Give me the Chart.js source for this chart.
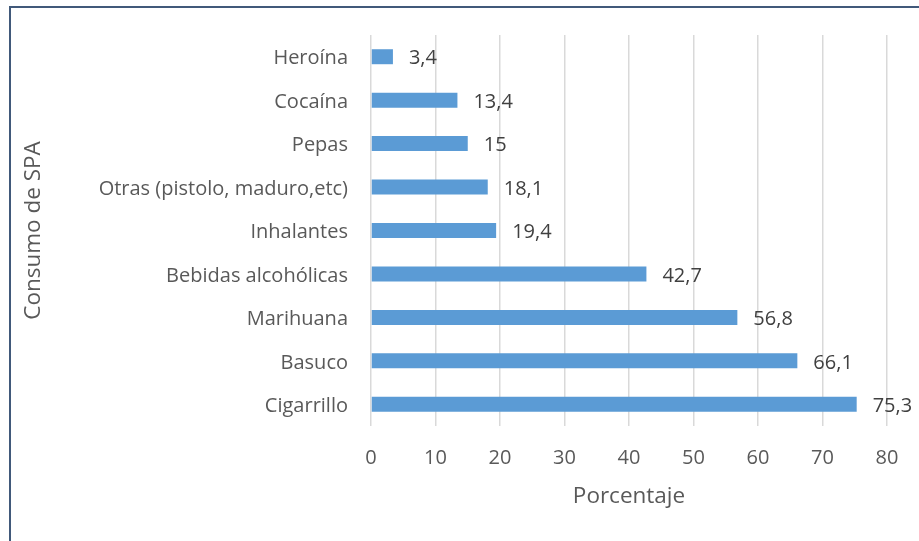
<!DOCTYPE html>
<html>
<head>
<meta charset="utf-8">
<script src="https://cdn.jsdelivr.net/npm/chart.js"></script>
<style>
  html, body { margin: 0; padding: 0; background: #ffffff; }
  #wrap { position: relative; width: 919px; height: 541px; }
</style>
</head>
<body>
<div id="wrap"><canvas id="spaChart" width="919" height="541"></canvas></div>
<script>
'use strict'
var categorias = ['Heroína', 'Cocaína', 'Pepas', 'Otras (pistolo, maduro,etc)', 'Inhalantes', 'Bebidas alcohólicas', 'Marihuana', 'Basuco', 'Cigarrillo'];
var porcentajes = [3.4, 13.4, 15, 18.1, 19.4, 42.7, 56.8, 66.1, 75.3];
var ejeX = { min: 0, max: 80, paso: 10 };

/* etiquetas de valor al final de cada barra */
var etiquetasValor = {
    id: 'etiquetasValor',
    afterDatasetsDraw: function (chart) {
        var ctx = chart.ctx;
        var meta = chart.getDatasetMeta(0);
        ctx.save();
        ctx.font = '20px "Open Sans"';
        ctx.fillStyle = '#404040';
        ctx.textAlign = 'left';
        ctx.textBaseline = 'middle';
        meta.data.forEach(function (bar, i) {
            var txt = String(porcentajes[i]).replace('.', ',');
            ctx.fillText(txt, bar.x + 16, bar.y + 2);
        });
        ctx.restore();
    }
};

/* marco del grafico */
var marco = {
    id: 'marco',
    beforeDraw: function (chart) {
        var ctx = chart.ctx;
        ctx.save();
        ctx.fillStyle = '#ffffff';
        ctx.fillRect(0, 0, chart.width, chart.height);
        ctx.strokeStyle = '#41597a';
        ctx.lineWidth = 2;
        ctx.beginPath();
        ctx.moveTo(10, chart.height + 5);
        ctx.lineTo(10, 7);
        ctx.lineTo(chart.width + 5, 7);
        ctx.stroke();
        ctx.restore();
    }
};

var ctxSpa = document.getElementById('spaChart').getContext('2d');
var spaChart = new Chart(ctxSpa, {
    type: 'bar',
    data: {
        labels: categorias,
        datasets: [{
            data: porcentajes,
            backgroundColor: '#5B9BD5',
            borderWidth: 0,
            categoryPercentage: 1,
            barPercentage: 0.345
        }]
    },
    options: {
        indexAxis: 'y',
        responsive: false,
        animation: false,
        layout: { padding: { top: 35, right: 32, left: 0, bottom: 0 } },
        plugins: {
            legend: { display: false },
            tooltip: { enabled: false }
        },
        scales: {
            x: {
                min: ejeX.min,
                max: ejeX.max,
                ticks: {
                    stepSize: ejeX.paso,
                    color: '#595959',
                    font: { family: 'Open Sans', size: 20 },
                    padding: 20
                },
                grid: {
                    color: '#D9D9D9',
                    lineWidth: 1.5,
                    drawTicks: false
                },
                border: { display: false },
                title: {
                    display: true,
                    text: 'Porcentaje',
                    color: '#595959',
                    font: { family: 'Open Sans', size: 22.5 },
                    padding: { top: 0, bottom: 31 }
                },
                afterFit: function (scale) { scale.height = 115; }
            },
            y: {
                ticks: {
                    color: '#595959',
                    font: { family: 'Open Sans', size: 20 },
                    padding: 23,
                    labelOffset: 2
                },
                grid: { display: false, drawTicks: false },
                border: { display: false },
                title: {
                    display: true,
                    text: 'Consumo de SPA',
                    color: '#595959',
                    font: { family: 'Open Sans', size: 22.5 },
                    padding: { top: 20, bottom: 0 }
                },
                afterFit: function (scale) { scale.width = 371; }
            }
        }
    },
    plugins: [marco, etiquetasValor]
});
</script>
</body>
</html>
